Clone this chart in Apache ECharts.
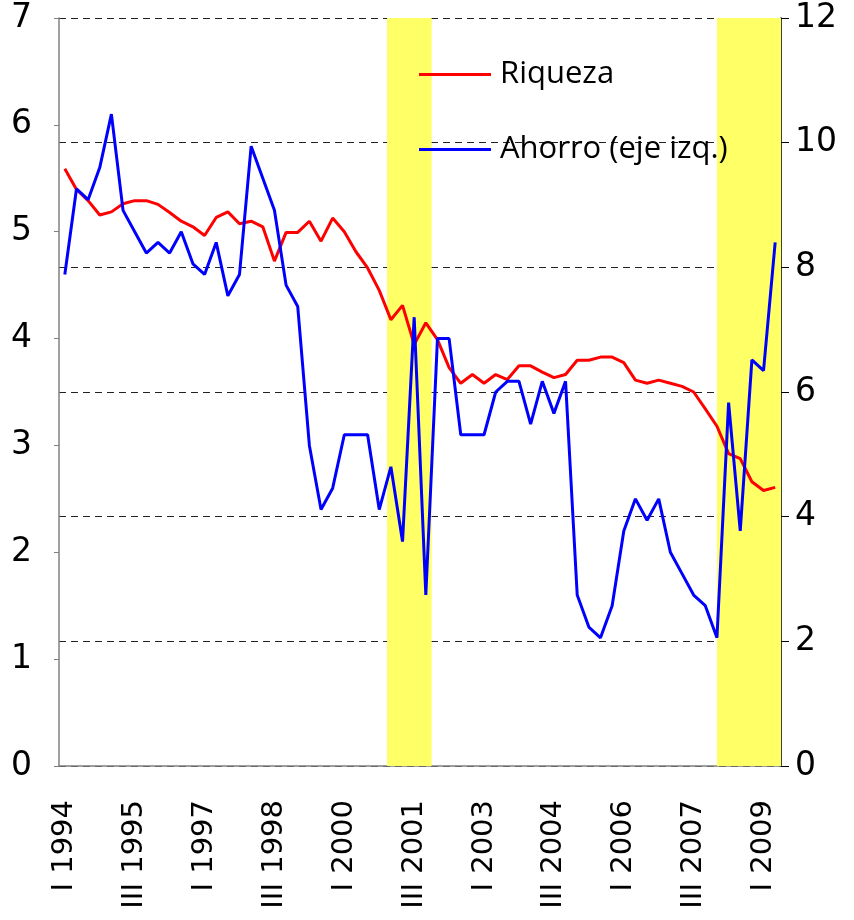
<!DOCTYPE html>
<html>
<head>
<meta charset="utf-8">
<script src="https://cdn.jsdelivr.net/npm/echarts@6/dist/echarts.min.js"></script>
<style>
html, body { margin: 0; padding: 0; background: #fff; }
#chart { width: 854px; height: 920px; }
</style>
</head>
<body>
<div id="chart"></div>
<script>
// trimestres I 1994 .. II 2009
const romanos = ['I', 'II', 'III', 'IV'];
const trimestres = [];
for (let a = 1994; a <= 2009; a++) {
    romanos.forEach(q => trimestres.push(q + ' ' + a));
}
trimestres.length = 62;

// Ahorro (eje izq.)
const ahorro = [
    4.6, 5.4, 5.3, 5.6, 6.1, 5.2, 5.0, 4.8, 4.9, 4.8,
    5.0, 4.7, 4.6, 4.9, 4.4, 4.6, 5.8, 5.5, 5.2, 4.5,
    4.3, 3.0, 2.4, 2.6, 3.1, 3.1, 3.1, 2.4, 2.8, 2.1,
    4.2, 1.6, 4.0, 4.0, 3.1, 3.1, 3.1, 3.5, 3.6, 3.6,
    3.2, 3.6, 3.3, 3.6, 1.6, 1.3, 1.2, 1.5, 2.2, 2.5,
    2.3, 2.5, 2.0, 1.8, 1.6, 1.5, 1.2, 3.4, 2.2, 3.8,
    3.7, 4.9
];

// Riqueza (eje dcho.)
const riqueza = [
    9.58, 9.25, 9.07, 8.84, 8.89, 9.02, 9.07, 9.07, 9.01, 8.88,
    8.74, 8.65, 8.51, 8.80, 8.89, 8.70, 8.74, 8.65, 8.10, 8.56,
    8.56, 8.74, 8.42, 8.79, 8.57, 8.25, 7.99, 7.63, 7.16, 7.39,
    6.76, 7.11, 6.84, 6.39, 6.14, 6.28, 6.14, 6.28, 6.20, 6.42,
    6.42, 6.32, 6.23, 6.28, 6.51, 6.51, 6.56, 6.56, 6.47, 6.19,
    6.14, 6.19, 6.14, 6.09, 6.00, 5.73, 5.45, 5.01, 4.93, 4.56,
    4.42, 4.47
];

// bandas amarillas, en trimestres desde I 1994
const recesiones = [[28.17, 32], [56.5, 62]];

const chart = echarts.init(document.getElementById('chart'));

const numeros = { fontFamily: 'DejaVu Sans', fontSize: 33, color: '#000' };

chart.setOption({
    animation: false,
    grid: { left: 59, right: 73, top: 18, bottom: 154 },
    legend: {
        orient: 'vertical',
        left: 414,
        top: 54,
        itemGap: 44,
        itemWidth: 72,
        itemHeight: 3,
        textStyle: { fontFamily: 'Open Sans', fontSize: 31, color: '#000', padding: [0, 0, 0, 4] },
        data: [
            { name: 'Riqueza', icon: 'rect' },
            { name: 'Ahorro (eje izq.)', icon: 'rect' }
        ]
    },
    xAxis: [
        {
            type: 'category',
            data: trimestres,
            boundaryGap: true,
            axisLine: { lineStyle: { color: '#808080', width: 1.5 } },
            axisTick: { interval: 5, length: 10, lineStyle: { color: '#808080', width: 1.5 } },
            axisLabel: {
                interval: 5,
                rotate: 90,
                margin: 34,
                fontFamily: 'DejaVu Sans',
                fontSize: 29,
                color: '#000'
            }
        },
        { type: 'value', min: 0, max: trimestres.length, show: false }
    ],
    yAxis: [
        {
            type: 'value',
            min: 0,
            max: 7,
            interval: 1,
            position: 'left',
            axisLine: { show: true, lineStyle: { color: '#808080', width: 1.5 } },
            axisTick: { show: true, length: 5, lineStyle: { color: '#808080' } },
            axisLabel: Object.assign({ margin: 27 }, numeros),
            splitLine: { show: false }
        },
        {
            type: 'value',
            min: 0,
            max: 12,
            interval: 2,
            position: 'right',
            axisLine: { show: true, lineStyle: { color: '#000', width: 1.5 } },
            axisTick: { show: true, length: 8, lineStyle: { color: '#000' } },
            axisLabel: Object.assign({ margin: 14 }, numeros),
            splitLine: { show: true, lineStyle: { type: [7, 5], color: '#222', width: 1 } }
        }
    ],
    series: [
        {
            type: 'line',
            xAxisIndex: 1,
            yAxisIndex: 1,
            data: [],
            z: -1,
            silent: true,
            markArea: {
                silent: true,
                itemStyle: { color: '#ffff66' },
                data: recesiones.map(r => [{ xAxis: r[0] }, { xAxis: r[1] }])
            }
        },
        {
            name: 'Riqueza',
            type: 'line',
            yAxisIndex: 1,
            data: riqueza,
            symbol: 'none',
            color: '#ff0000',
            lineStyle: { width: 3 }
        },
        {
            name: 'Ahorro (eje izq.)',
            type: 'line',
            yAxisIndex: 0,
            data: ahorro,
            symbol: 'none',
            color: '#0000ff',
            lineStyle: { width: 3 }
        }
    ]
});
</script>
</body>
</html>
